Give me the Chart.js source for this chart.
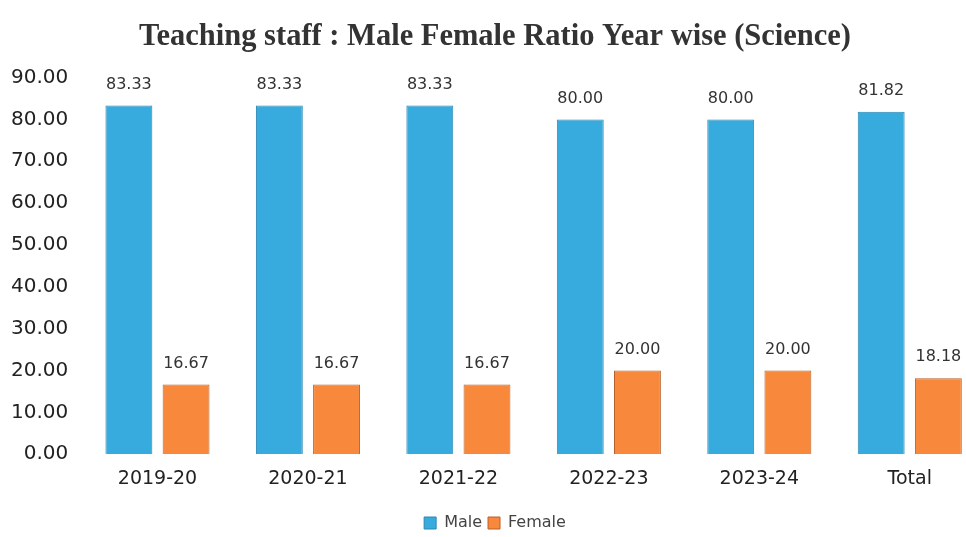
<!DOCTYPE html>
<html>
<head>
<meta charset="utf-8">
<script src="https://cdn.jsdelivr.net/npm/chart.js@4/dist/chart.umd.min.js"></script>
<style>
  html, body { margin: 0; padding: 0; background: #fff; overflow: hidden; }
  #wrap { width: 985px; height: 537px; position: relative; }
</style>
</head>
<body>
<div id="wrap"><canvas id="ratioChart"></canvas></div>
<script>
// valeurs
const years = ['2019-20', '2020-21', '2021-22', '2022-23', '2023-24', 'Total'];
const maleValues = [83.33, 83.33, 83.33, 80.00, 80.00, 81.82];
const femaleValues = [16.67, 16.67, 16.67, 20.00, 20.00, 18.18];

// étiquettes au-dessus des barres
const valueLabels = {
    id: 'valueLabels',
    afterDatasetsDraw(chart) {
        const ctx = chart.ctx;
        ctx.save();
        ctx.font = '16px "DejaVu Sans"';
        ctx.fillStyle = '#333';
        ctx.textAlign = 'center';
        ctx.textBaseline = 'bottom';
        chart.data.datasets.forEach(function (ds, i) {
            chart.getDatasetMeta(i).data.forEach(function (bar, j) {
                ctx.fillText(ds.data[j].toFixed(2), bar.x, bar.y - 13);
            });
        });
        ctx.restore();
    }
};

const ctx = document.getElementById('ratioChart').getContext('2d');
new Chart(ctx, {
    type: 'bar',
    data: {
        labels: years,
        datasets: [{
            label: 'Male',
            data: maleValues,
            backgroundColor: '#38abde',
            borderColor: '#2a86b3',
            borderWidth: 1
        }, {
            label: 'Female',
            data: femaleValues,
            backgroundColor: '#f7883c',
            borderColor: '#b8602a',
            borderWidth: 1
        }]
    },
    options: {
        responsive: true,
        maintainAspectRatio: false,
        animation: false,
        barPercentage: 0.82,
        categoryPercentage: 0.76,
        layout: { padding: { left: 5, right: 0, top: 0, bottom: -4 } },
        plugins: {
            title: {
                display: true,
                text: 'Teaching staff : Male Female Ratio Year wise (Science)',
                font: { family: '"Liberation Serif"', size: 30.5, weight: 'bold' },
                color: '#333',
                padding: { top: 19, bottom: 22 }
            },
            legend: {
                position: 'bottom',
                labels: {
                    boxWidth: 12,
                    boxHeight: 12,
                    padding: 6,
                    font: { family: '"DejaVu Sans"', size: 16 },
                    color: '#444'
                }
            },
            tooltip: { enabled: false }
        },
        scales: {
            x: {
                grid: { display: false },
                border: { display: false },
                ticks: { font: { family: '"DejaVu Sans"', size: 19 }, color: '#222', padding: 5 },
                // un peu d'espace entre les libellés et la légende
                afterFit: function (scale) { scale.height += 14; }
            },
            y: {
                min: 0,
                max: 90,
                grid: { display: false },
                border: { display: false },
                ticks: {
                    stepSize: 10,
                    font: { family: '"DejaVu Sans"', size: 20 },
                    color: '#222',
                    padding: 6,
                    callback: function (v) { return v.toFixed(2); }
                }
            }
        }
    },
    plugins: [valueLabels]
});
</script>
</body>
</html>
